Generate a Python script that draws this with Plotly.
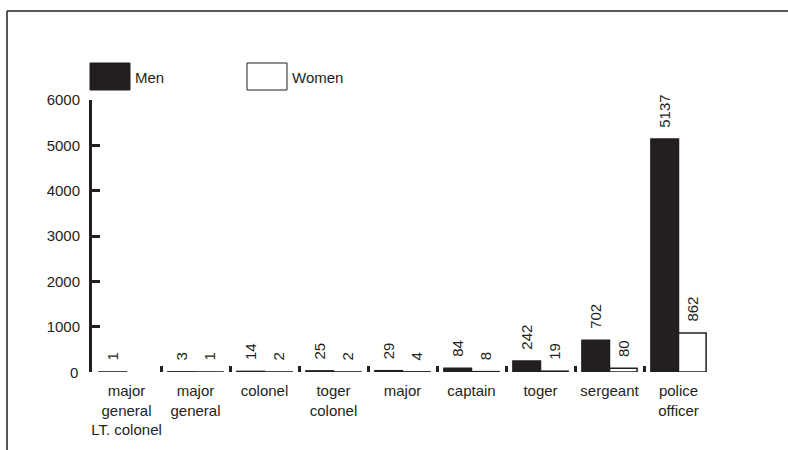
import plotly.graph_objects as go

categories = ["major<br>general<br>LT. colonel", "major<br>general", "colonel", "toger<br>colonel",
              "major", "captain", "toger", "sergeant", "police<br>officer"]
men = [1, 3, 14, 25, 29, 84, 242, 702, 5137]
women = [None, 1, 2, 2, 4, 8, 19, 80, 862]
y_ticks = [0, 1000, 2000, 3000, 4000, 5000, 6000]
series_names = ["Men", "Women"]

INK = "#231f20"
FONT = "Liberation Sans, Arial, Helvetica, sans-serif"
PAD = "\u00a0\u00a0"

fig = go.Figure()
fig.add_trace(go.Bar(
    x=categories, y=men, name=series_names[0],
    marker=dict(color=INK, line=dict(color=INK, width=1.5)),
    text=[PAD + str(v) for v in men], textposition="outside", textangle=-90, constraintext="none",
    textfont=dict(family=FONT, size=15, color=INK), cliponaxis=False,
))
fig.add_trace(go.Bar(
    x=categories, y=women, name=series_names[1],
    marker=dict(color="white", line=dict(color=INK, width=1.5)),
    text=["" if v is None else PAD + str(v) for v in women], textposition="outside", textangle=-90,
    constraintext="none",
    textfont=dict(family=FONT, size=15, color=INK), cliponaxis=False,
))

W, H = 788, 450
L, R, T, B = 92, 75, 100, 78
pw, ph = W - L - R, H - T - B

def px(x):
    return (x - L) / pw

def py(y):
    return (H - B - y) / ph

fig.update_layout(
    width=W, height=H,
    margin=dict(l=L, r=R, t=T, b=B),
    paper_bgcolor="white", plot_bgcolor="white",
    showlegend=False,
    barmode="group", bargap=0.2, bargroupgap=0.0,
    font=dict(family=FONT, size=15, color=INK),
    xaxis=dict(type="category", showline=False, showgrid=False, zeroline=False,
               ticks="inside", tickson="boundaries", ticklen=6, tickwidth=3, tickcolor=INK,
               tickangle=0, ticklabelstandoff=8,
               tickfont=dict(family=FONT, size=15, color=INK)),
    yaxis=dict(range=[0, 6000], tickvals=y_ticks[1:], ticks="inside", ticklen=8, tickwidth=3,
               tickcolor=INK, showgrid=False, zeroline=False,
               showline=True, linewidth=3, linecolor=INK,
               ticklabelstandoff=6,
               tickfont=dict(family=FONT, size=15, color=INK)),
)

# zero label (no tick mark at zero in the original)
fig.add_annotation(xref="paper", yref="y", x=px(80), y=y_ticks[0], text=str(y_ticks[0]), showarrow=False,
                   xanchor="right", yanchor="middle", font=dict(family=FONT, size=15, color=INK))

# frame lines
fig.add_shape(type="line", xref="paper", yref="paper", x0=px(7), x1=px(W + 5), y0=py(11), y1=py(11),
              line=dict(color=INK, width=1.5))
fig.add_shape(type="line", xref="paper", yref="paper", x0=px(7), x1=px(7), y0=py(11), y1=py(H + 5),
              line=dict(color=INK, width=1.5))

# legend swatches
fig.add_shape(type="rect", xref="paper", yref="paper", x0=px(90), x1=px(130), y0=py(90), y1=py(63),
              fillcolor=INK, line=dict(color=INK, width=1))
fig.add_shape(type="rect", xref="paper", yref="paper", x0=px(247), x1=px(287), y0=py(90), y1=py(63),
              fillcolor="white", line=dict(color=INK, width=1))
fig.add_annotation(xref="paper", yref="paper", x=px(133), y=py(77), text=series_names[0], showarrow=False,
                   xanchor="left", yanchor="middle", font=dict(family=FONT, size=15, color=INK))
fig.add_annotation(xref="paper", yref="paper", x=px(290), y=py(77), text=series_names[1], showarrow=False,
                   xanchor="left", yanchor="middle", font=dict(family=FONT, size=15, color=INK))

fig.write_html("out.html", config={"displayModeBar": False},
               post_script="document.body.style.margin='0';document.body.style.overflow='hidden';")
